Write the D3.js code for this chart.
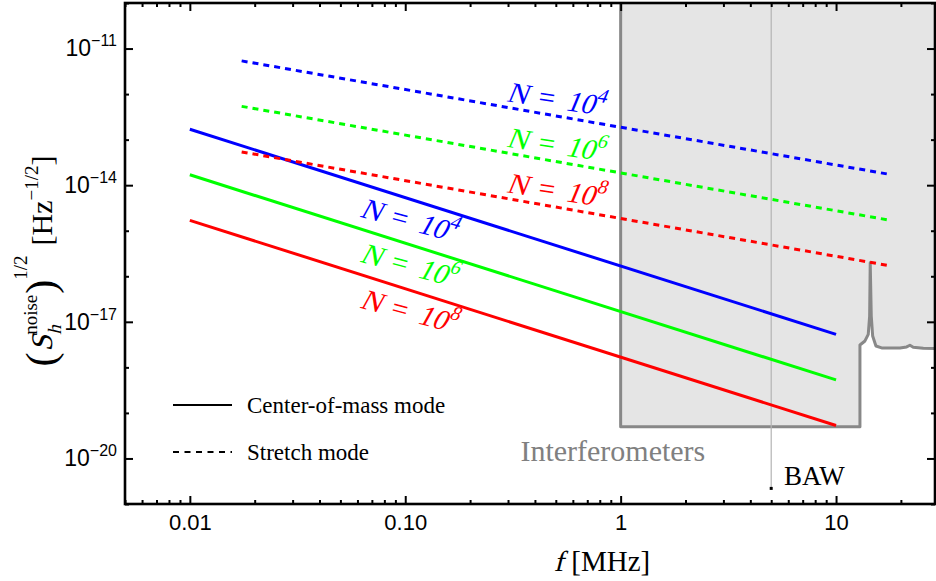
<!DOCTYPE html>
<html><head><meta charset="utf-8">
<script src="https://cdn.jsdelivr.net/npm/d3@7"></script>
<style>body{margin:0;background:#fff}svg{display:block}</style>
</head><body><svg id="c" width="936" height="581"></svg>
<script>
// ---------- data ----------
const seriesNames = ["N = 10^4", "N = 10^6", "N = 10^8"];
const nExponents = ["4", "6", "8"];
const seriesColors = ["#0000ff", "#00ff00", "#ff0000"];
// centre-of-mass mode (solid)
const comFreq = [0.01, 10];
const comN4 = [1.69e-13, 5.3e-18];
const comN6 = [1.69e-14, 5.3e-19];
const comN8 = [1.69e-15, 5.3e-20];
// stretch mode (dashed)
const stretchFreq = [0.0174, 17.2];
const stretchN4 = [5.36e-12, 1.77e-14];
const stretchN6 = [5.38e-13, 1.75e-15];
const stretchN8 = [5.38e-14, 1.75e-16];
// interferometer sensitivity region outline
const interfFreq = [1, 1, 12.91, 12.91, 13.62, 14.11, 14.32, 14.41, 14.57, 14.79, 15.32, 16.28, 19.81, 21.27, 22.03, 22.82, 25.41, 29.1];
const interfNoise = [1e-10, 4.99e-20, 4.99e-20, 3.10e-18, 3.80e-18, 5.32e-18, 1.34e-17, 1.97e-16, 1.34e-17, 4.89e-18, 2.95e-18, 2.67e-18, 2.67e-18, 2.81e-18, 3.06e-18, 2.77e-18, 2.63e-18, 2.59e-18];
// BAW
const bawFreq = 5;
const bawNoise = 2.2e-21;
// label anchors
const comLabelFreq = 0.061;
const comLabelNoise = [2.05e-15, 2.1e-16, 2.05e-17];
const stretchLabelFreq = 0.293;
const stretchLabelNoise = [7.0e-13, 7.0e-14, 7.0e-15];
const interfLabel = {f: 0.92, s: 8.9e-21, text: "Interferometers"};
const bawLabel = {f: 5.73, s: 2.64e-21, text: "BAW"};
const legendNames = ["Center-of-mass mode", "Stretch mode"];
// ticks
const xMajorTicks = [0.01, 0.1, 1, 10];
const xTickLabels = ["0.01", "0.10", "1", "10"];
const yMajorTicks = [1e-20, 1e-17, 1e-14, 1e-11];
const yTickExps = ["\u221220", "\u221217", "\u221214", "\u221211"];

// ---------- layout ----------
const L = 125, R = 935, T = 3, B = 504;
const serif = "'Liberation Serif','Times New Roman',serif";
const sans = "'Liberation Sans',Arial,sans-serif";
const svg = d3.select("#c");
const x = d3.scaleLog().domain([0.005, 28.8]).range([L, R]);
const y = d3.scaleLog().domain([1e-21, 1e-10]).range([B, T]);

// sequential rich text: italic glyphs are slanted regular serif glyphs
function richText(g, parts, fill) {
  let cx = 0;
  parts.forEach(p => {
    if (p.gap) { cx += p.gap; return; }
    const dy = p.dy || 0;
    const el = g.append("text").attr("font-family", serif).attr("font-size", p.size)
      .attr("fill", fill).text(p.t);
    if (p.italic) el.attr("transform", `translate(${cx},${dy}) skewX(-14)`);
    else el.attr("x", cx).attr("y", dy);
    const w = el.node().getComputedTextLength();
    p.w = w;
    if (p.stackStart) { p._x = cx; }
    if (p.noAdvance) { /* stacked script */ } else cx += w;
    if (p.advanceBy !== undefined) cx += p.advanceBy;
  });
  return cx;
}

svg.append("defs").append("clipPath").attr("id", "clip")
  .append("rect").attr("x", L).attr("y", T).attr("width", R - L).attr("height", B - T);
const plot = svg.append("g").attr("clip-path", "url(#clip)");

// interferometer region
const pts = interfFreq.map((f, i) => [f, interfNoise[i]]);
const line = d3.line().x(d => x(d[0])).y(d => y(d[1]));
const fillPts = pts.concat([[interfFreq[interfFreq.length - 1], 1e-10]]);
plot.append("path").attr("d", line(fillPts) + "Z").attr("fill", "#e5e5e5").attr("stroke", "none");
plot.append("path").attr("d", line(pts)).attr("fill", "none").attr("stroke", "#888")
  .attr("stroke-width", 3).attr("stroke-linejoin", "round");

// BAW line
plot.append("line").attr("x1", x(bawFreq)).attr("x2", x(bawFreq)).attr("y1", y(bawNoise)).attr("y2", T)
  .attr("stroke", "#b3b3b3").attr("stroke-width", 1.2);
svg.append("rect").attr("x", x(bawFreq) - 1.5).attr("y", y(bawNoise) - 1.5).attr("width", 3).attr("height", 3).attr("fill", "#000");

// series
const comSeries = [comN4, comN6, comN8];
const stretchSeries = [stretchN4, stretchN6, stretchN8];
comSeries.forEach((vals, i) => {
  plot.append("path").attr("d", line(comFreq.map((f, j) => [f, vals[j]])))
    .attr("fill", "none").attr("stroke", seriesColors[i]).attr("stroke-width", 3);
});
stretchSeries.forEach((vals, i) => {
  plot.append("path").attr("d", line(stretchFreq.map((f, j) => [f, vals[j]])))
    .attr("fill", "none").attr("stroke", seriesColors[i]).attr("stroke-width", 3)
    .attr("stroke-dasharray", "6,5");
});

// N labels
function nLabel(px, py, ang, i) {
  const g = svg.append("g").attr("transform", `translate(${px},${py}) rotate(${ang})`);
  richText(g, [
    {t: "N", size: 29, italic: true},
    {gap: 11},
    {t: "=", size: 29},
    {gap: 11},
    {t: "10", size: 29, italic: true},
    {gap: 1},
    {t: nExponents[i], size: 20, dy: -13, italic: true}
  ], seriesColors[i]);
}
comLabelNoise.forEach((s, i) => nLabel(x(comLabelFreq), y(s), 15, i));
stretchLabelNoise.forEach((s, i) => nLabel(x(stretchLabelFreq), y(s), 8.5, i));

// region labels
svg.append("text").attr("x", x(interfLabel.f)).attr("y", y(interfLabel.s)).attr("text-anchor", "middle")
  .attr("font-family", serif).attr("font-size", 30).attr("fill", "#808080").text(interfLabel.text);
svg.append("text").attr("x", x(bawLabel.f)).attr("y", y(bawLabel.s))
  .attr("font-family", serif).attr("font-size", 27).attr("fill", "#000").text(bawLabel.text);

// legend
const leg = svg.append("g");
legendNames.forEach((name, i) => {
  const ly = 405 + i * 47;
  leg.append("line").attr("x1", 173).attr("x2", 232).attr("y1", ly).attr("y2", ly)
    .attr("stroke", "#000").attr("stroke-width", 2.2).attr("stroke-dasharray", i ? "6,5.5" : null);
  leg.append("text").attr("x", 247).attr("y", ly + 8).attr("font-family", serif).attr("font-size", 23).text(name);
});

// ---------- axes / frame ----------
function logTicks(lo, hi) {
  const out = [];
  for (let e = -4; e <= 2; e++) for (let m = 1; m <= 9; m++) {
    const v = m * Math.pow(10, e);
    if (v >= lo * 0.999 && v <= hi * 1.001) out.push(+v.toPrecision(3));
  }
  return out;
}
const xMinor = logTicks(0.005, 28.8).filter(v => !xMajorTicks.some(m => Math.abs(m - v) / m < 1e-6));
const yMinor = d3.range(-21, -9).map(e => Math.pow(10, e)).filter(v => !yMajorTicks.some(m => Math.abs(m - v) / m < 1e-6));

function styleAxis(g) {
  g.select(".domain").remove();
  g.selectAll(".tick line").attr("stroke", "#000").attr("stroke-width", 2);
}
// bottom
svg.append("g").attr("transform", `translate(0,${B})`)
  .call(d3.axisBottom(x).tickValues(xMinor).tickSize(-4).tickFormat(""))
  .call(styleAxis);
svg.append("g").attr("transform", `translate(0,${B})`)
  .call(d3.axisBottom(x).tickValues(xMajorTicks).tickSize(-8).tickPadding(10)
    .tickFormat((d, i) => xTickLabels[i]))
  .call(styleAxis)
  .call(g => g.selectAll("text").attr("font-family", sans).attr("font-size", 22).attr("fill", "#000"));
// top
svg.append("g").attr("transform", `translate(0,${T})`)
  .call(d3.axisTop(x).tickValues(xMinor).tickSize(-4).tickFormat("")).call(styleAxis);
svg.append("g").attr("transform", `translate(0,${T})`)
  .call(d3.axisTop(x).tickValues(xMajorTicks).tickSize(-8).tickFormat("")).call(styleAxis);
// left
svg.append("g").attr("transform", `translate(${L},0)`)
  .call(d3.axisLeft(y).tickValues(yMinor).tickSize(-4).tickFormat("")).call(styleAxis);
const yl = svg.append("g").attr("transform", `translate(${L},0)`)
  .call(d3.axisLeft(y).tickValues(yMajorTicks).tickSize(-8).tickPadding(8).tickFormat(""))
  .call(styleAxis);
yl.selectAll(".tick").each(function (d) {
  const t = d3.select(this).select("text").attr("font-family", sans).attr("font-size", 23).attr("fill", "#000")
    .attr("dy", "0.32em").attr("x", -8);
  t.append("tspan").text("10");
  t.append("tspan").attr("font-size", 16).attr("dy", -10).text(yTickExps[yMajorTicks.indexOf(d)]);
});
// right
svg.append("g").attr("transform", `translate(${R},0)`)
  .call(d3.axisRight(y).tickValues(yMinor).tickSize(-4).tickFormat("")).call(styleAxis);
svg.append("g").attr("transform", `translate(${R},0)`)
  .call(d3.axisRight(y).tickValues(yMajorTicks).tickSize(-8).tickFormat("")).call(styleAxis);
// frame
svg.append("rect").attr("x", L).attr("y", T).attr("width", R - L).attr("height", B - T)
  .attr("fill", "none").attr("stroke", "#000").attr("stroke-width", 2.6);

// x label
const xg = svg.append("g");
const xw = richText(xg, [
  {t: "f", size: 29, italic: true},
  {gap: 8},
  {t: "[MHz]", size: 29}
], "#000");
xg.attr("transform", `translate(${602 - xw / 2},571)`);

// y label (rotated, built piecewise)
const yg = svg.append("g");
const inner = yg.append("g");
let cx = 0;
function piece(t, size, dy, italic, advance = true) {
  const el = inner.append("text").attr("font-family", serif)
    .attr("font-size", size).attr("fill", "#000").text(t);
  if (italic) el.attr("transform", `translate(${cx},${dy}) skewX(-14)`);
  else el.attr("x", cx).attr("y", dy);
  const w = el.node().getComputedTextLength();
  if (advance) cx += w;
  return w;
}
piece("(", 42, 3, false);
cx += 1;
piece("S", 30, 0, true);
const sx = cx;
const w1 = piece("noise", 19, -15, false, false);
const w2 = piece("h", 19, 9, true, false);
cx = sx + Math.max(w1, w2) + 1;
piece(")", 42, 3, false);
piece("1/2", 19, -25, false);
cx += 10;
piece("[Hz", 30, 0, false);
piece("\u22121/2", 19, -14, false);
piece("]", 30, 0, false);
const W = cx;
yg.attr("transform", `translate(52,${261}) rotate(-90)`);
inner.attr("transform", `translate(${-W / 2},0)`);
</script></body></html>
